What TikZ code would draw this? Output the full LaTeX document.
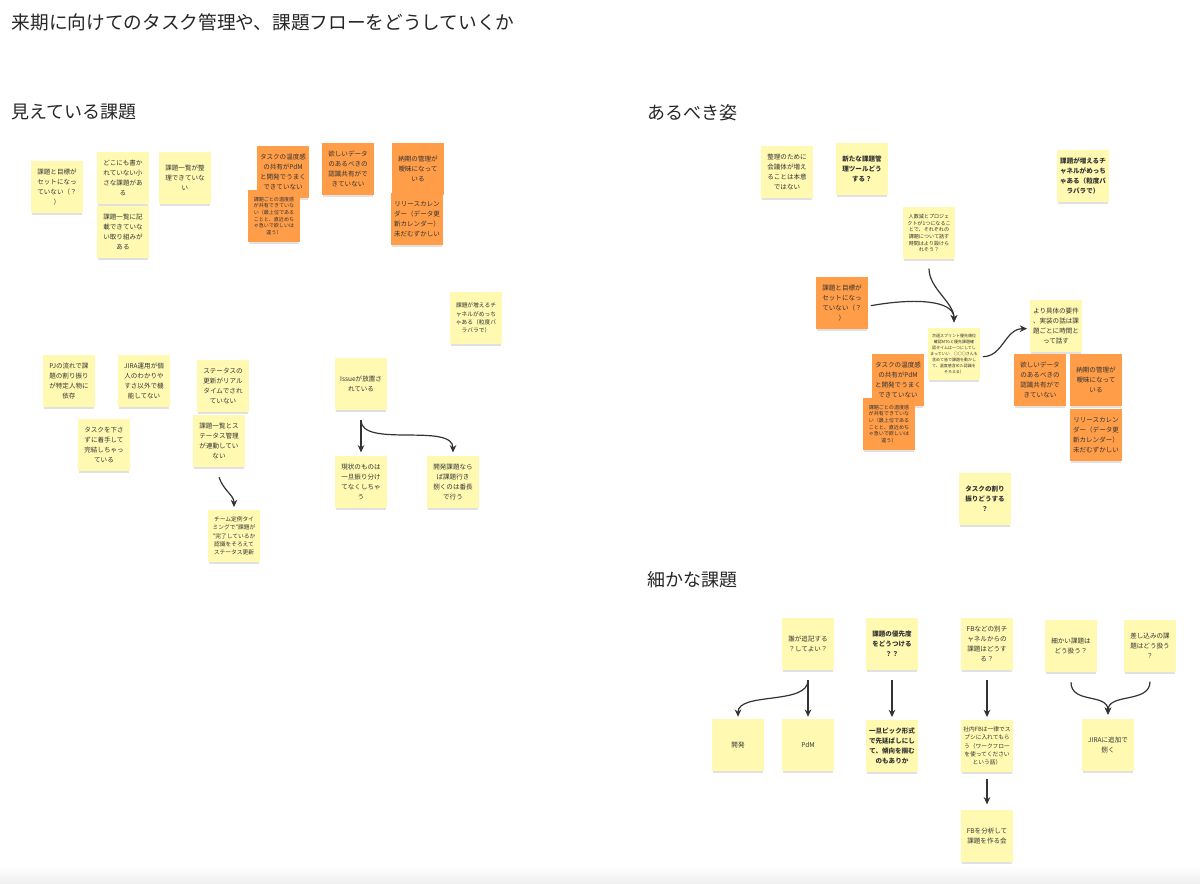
\documentclass[tikz,border=0pt]{standalone}
\usepackage{fontspec}
\setmainfont{Noto Sans CJK JP}
\usepackage{tikz}
\usetikzlibrary{calc,arrows.meta,shadows}
\definecolor{stky}{HTML}{FFF9B1}
\definecolor{stko}{HTML}{FF9D48}
\definecolor{ink}{HTML}{333333}

\begin{document}
\begin{tikzpicture}[x=0.75pt,y=-0.75pt,
    note/.style={minimum width=39pt,minimum height=39pt,inner sep=0pt,align=center,
      text=ink,font=\fontsize{4.9}{7.5}\selectfont,
      drop shadow={shadow xshift=0pt,shadow yshift=-2.5pt,shadow scale=.95,opacity=.24}},
    yel/.style={note,fill=stky},
    org/.style={note,fill=stko},
    bld/.style={font=\fontsize{4.9}{7.5}\selectfont\bfseries},
    small/.style={font=\fontsize{4.3}{6.2}\selectfont},
    smaller/.style={font=\fontsize{3.8}{5}\selectfont},
    tiny/.style={font=\fontsize{3}{4.6}\selectfont},
    arr/.style={-{Stealth[length=5.5pt,width=5pt]},ink,line width=0.9pt},
    head/.style={anchor=west,font=\fontsize{13.5}{16}\selectfont,text=black!85}]
  \useasboundingbox (0,0) rectangle (1200,883);
  \shade[top color=white,bottom color=black!6] (0,866) rectangle (1200,883);

  % titles
  \node[head,font=\fontsize{14}{16}\selectfont] (title) at (7,22) {来期に向けてのタスク管理や、課題フローをどうしていくか};
  \node[head] (hmieru) at (7,112) {見えている課題};
  \node[head] (haru) at (643,113) {あるべき姿};
  \node[head] (hkoma) at (643,580) {細かな課題};

  % 見えている課題
  \node[yel] (goalL) at (57,187) {課題と目標が\\セットになっ\\ていない（？\\）};
  \node[yel] (hidden) at (123,178) {どこにも書か\\れていない小\\さな課題があ\\る};
  \node[yel] (listA) at (185,178) {課題一覧が整\\理できていな\\い};
  \node[yel] (listB) at (123,232) {課題一覧に記\\載できていな\\い取り組みが\\ある};
  \node[org] (tempL) at (283,172) {タスクの温度感\\の共有がPdM\\と開発でうまく\\できていない};
  \node[org,smaller] (tempsubL) at (274,216) {課題ごとの温度感\\が共有できていな\\い（最上位である\\ことと、直近めち\\ゃ急いで欲しいは\\違う）};
  \node[org] (dataL) at (348,169) {欲しいデータ\\のあるべきの\\認識共有がで\\きていない};
  \node[org] (dueL) at (418,169) {納期の管理が\\曖昧になって\\いる};
  \node[org] (relL) at (417,219) {リリースカレン\\ダー（データ更\\新カレンダー）\\未だむずかしい};

  \node[yel,small] (chanL) at (476,318) {課題が増えるチ\\ャネルがめっち\\ゃある（粒度バ\\ラバラで）};
  \node[yel] (assign) at (69,381) {PJの流れで課\\題の割り振り\\が特定人物に\\依存};
  \node[yel] (jira) at (144,381) {JIRA運用が個\\人のわかりや\\すさ以外で機\\能してない};
  \node[yel] (notask) at (104,445) {タスクを下さ\\ずに着手して\\完結しちゃっ\\ている};
  \node[yel] (status) at (223,386) {ステータスの\\更新がリアル\\タイムでされ\\ていない};
  \node[yel] (link) at (219,441) {課題一覧とス\\テータス管理\\が連動してい\\ない};
  \node[yel,small] (teiki) at (234,536) {チーム定例タイ\\ミングで"課題が\\"完了しているか\\認識をそろえて\\ステータス更新};
  \node[yel] (issue) at (361,384) {Issueが放置さ\\れている};
  \node[yel] (sweep) at (361,482) {現状のものは\\一旦振り分け\\てなくしちゃ\\う};
  \node[yel] (bancho) at (453,482) {開発課題なら\\ば課題行き\\捌くのは番長\\で行う};

  \draw[arr] ([yshift=-7.5pt]link.south) .. controls +(5,14) and +(0,-12) .. ([yshift=2pt]teiki.north);
  \draw[arr] ([yshift=-7.5pt]issue.south) -- ([yshift=2.5pt]sweep.north);
  \draw[arr] ([yshift=-7.5pt]issue.south) .. controls +(0,28) and +(0,-30) .. ([yshift=2.5pt]bancho.north);

  % あるべき姿
  \node[yel] (meeting) at (787,172) {整理のために\\会議体が増え\\ることは本意\\ではない};
  \node[yel,bld] (tool) at (862,169) {新たな課題管\\理ツールどう\\する？};
  \node[yel,bld] (chanR) at (1083,176) {課題が増えるチ\\ャネルがめっち\\ゃある（粒度バ\\ラバラで）};
  \node[yel,smaller] (headcount) at (929,233) {人数減とプロジェ\\クトが1つになるこ\\とで、それぞれの\\課題について話す\\時間はより設けら\\れそう？};
  \node[org] (goalR) at (842,303) {課題と目標が\\セットになっ\\ていない（？\\）};
  \node[yel,tiny] (sprint) at (954,354) {次週スプリント優先順位\\確認MTGと優先課題確\\認タイムは一つにしてし\\まっていい　○○○さんも\\含めて皆で課題を動かし\\て、温度感含めた認識を\\そろえる）};
  \node[yel] (detail) at (1056,326) {より具体の要件\\、実装の話は課\\題ごとに時間と\\って話す};
  \node[org] (tempR) at (898,380) {タスクの温度感\\の共有がPdM\\と開発でうまく\\できていない};
  \node[org,smaller] (tempsubR) at (889,424) {課題ごとの温度感\\が共有できていな\\い（最上位である\\ことと、直近めち\\ゃ急いで欲しいは\\違う）};
  \node[org] (dataR) at (1040,380) {欲しいデータ\\のあるべきの\\認識共有がで\\きていない};
  \node[org] (dueR) at (1096,380) {納期の管理が\\曖昧になって\\いる};
  \node[org] (relR) at (1096,435) {リリースカレン\\ダー（データ更\\新カレンダー）\\未だむずかしい};
  \node[yel,bld] (split) at (985,499) {タスクの割り\\振りどうする\\？};

  \draw[arr] ([yshift=-7pt]headcount.south) .. controls +(0,20) and +(0,-20) .. ([yshift=4pt]sprint.north);
  \draw[arr] ([xshift=2pt,yshift=-2pt]goalR.east) .. controls +(45,-8) and +(0,-22) .. ([yshift=4pt]sprint.north);
  \draw[arr] ([xshift=2pt,yshift=-2pt]sprint.east) .. controls +(20,0) and +(-22,0) .. ([xshift=-2pt,yshift=-2pt]detail.west);

  % 細かな課題
  \node[yel] (who) at (808,644) {誰が追記する\\？してよい？};
  \node[yel,bld] (prio) at (892,644) {課題の優先度\\をどうつける\\？？};
  \node[yel] (fbch) at (987,644) {FBなどの別チ\\ャネルからの\\課題はどうす\\る？};
  \node[yel] (fine) at (1071,646) {細かい課題は\\どう扱う？};
  \node[yel] (insert) at (1150,646) {差し込みの課\\題はどう扱う\\？};
  \node[yel] (dev) at (738,745) {開発};
  \node[yel] (pdm) at (808,745) {PdM};
  \node[yel,bld] (pick) at (892,746) {一旦ピック形式\\で先延ばしにし\\て、傾向を掴む\\のもありか};
  \node[yel,small] (sheet) at (987,746) {社内FBは一律でス\\プシに入れてもら\\う（ワークフロー\\を使ってください\\という話）};
  \node[yel] (jiraadd) at (1108,745) {JIRAに追加で\\捌く};
  \node[yel] (fbmeet) at (987,836) {FBを分析して\\課題を作る会};

  \draw[arr] ([yshift=-7.5pt]who.south) -- ([yshift=1.5pt]pdm.north);
  \draw[arr] ([yshift=-7.5pt]who.south) .. controls +(0,25) and +(0,-25) .. ([yshift=1.5pt]dev.north);
  \draw[arr] ([yshift=-7.5pt]prio.south) -- ([yshift=2pt]pick.north);
  \draw[arr] ([yshift=-7.5pt]fbch.south) -- ([yshift=2pt]sheet.north);
  \draw[arr] ([yshift=-5pt]sheet.south) -- ([yshift=4pt]fbmeet.north);
  \draw[arr] ([yshift=-7.5pt]fine.south) .. controls +(0,22) and +(0,-22) .. ([yshift=3pt]jiraadd.north);
  \draw[arr] ([yshift=-7pt]insert.south) .. controls +(0,22) and +(0,-22) .. ([yshift=3pt]jiraadd.north);
\end{tikzpicture}
\end{document}
